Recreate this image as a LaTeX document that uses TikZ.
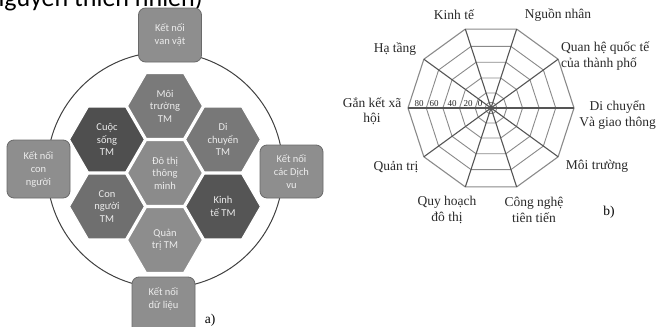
\documentclass[tikz,border=0pt]{standalone}
\usepackage{fontspec}
\setmainfont{Liberation Serif}
\newfontfamily\hexfont{Carlito}
\usetikzlibrary{shapes.geometric}
\definecolor{boxfill}{HTML}{8E8E8E}
\definecolor{boxedge}{HTML}{6A6A6A}
\definecolor{lighttext}{HTML}{ECECEC}
\definecolor{hexcen}{HTML}{8B8B8B}
\definecolor{hexmoi}{HTML}{7A7A7A}
\definecolor{hexcuoc}{HTML}{4F4F4F}
\definecolor{hexdi}{HTML}{787878}
\definecolor{hexkinh}{HTML}{555555}
\definecolor{hexcon}{HTML}{6F6F6F}
\definecolor{hexquan}{HTML}{8D8D8D}
\definecolor{ringcol}{HTML}{8A8A8A}
\definecolor{spokecol}{HTML}{555555}
\definecolor{labcol}{HTML}{2A2A2A}
\begin{document}
\begin{tikzpicture}[x=1pt,y=-1pt,
  hexbox/.style={regular polygon, regular polygon sides=6, minimum size=75pt,
    inner sep=0pt, draw=white, line width=1.2pt, text=lighttext,
    font=\hexfont\fontsize{10.5}{12.5}\selectfont, align=center},
  conbox/.style={rectangle, rounded corners=7pt, fill=boxfill, draw=boxedge,
    line width=0.8pt, minimum width=63pt, inner sep=0pt, text=lighttext,
    font=\hexfont\fontsize{10.5}{13}\selectfont, align=center},
  lbl/.style={font=\fontsize{13.5}{15.5}\selectfont, text=labcol, align=center, inner sep=0pt},
  scalelbl/.style={font=\fontsize{9}{10}\selectfont, text=labcol, inner sep=0pt},
  ring/.style={draw=ringcol, line width=0.9pt},
  spoke/.style={draw=spokecol, line width=1.1pt}]
\useasboundingbox (0,0) rectangle (657,327);
\clip (0,0) rectangle (657,327);
\fill[white] (0,0) rectangle (657,327);

% cut-off text at top (as in the reference)
\node[anchor=base east, font=\hexfont\fontsize{26}{28}\selectfont, inner sep=0pt] (toptext) at (203,6) {nguyên thiên nhiên)};

% ===== part a =====
\node[circle, draw=black!75, line width=1pt, minimum size=236pt, inner sep=0pt] (ring) at (165,170) {};

\node[hexbox, fill=hexcen]  (hcen)  at (165,173)   {Đô thị\\thông\\minh};
\node[hexbox, fill=hexmoi]  (hmoi)  at (165,106)   {Môi\\trường\\TM};
\node[hexbox, fill=hexquan] (hquan) at (165,240)   {Quản\\trị TM};
\node[hexbox, fill=hexcuoc] (hcuoc) at (107,139.5) {Cuộc\\sống\\TM};
\node[hexbox, fill=hexdi]   (hdi)   at (223,139.5) {Di\\chuyển\\TM};
\node[hexbox, fill=hexcon]  (hcon)  at (107,206.5) {Con\\người\\TM};
\node[hexbox, fill=hexkinh] (hkinh) at (223,206.5) {Kinh\\tế TM};

\node[conbox, minimum height=54pt] (btop)   at (170,35)    {Kết nối\\van vật};
\node[conbox, minimum height=58pt] (bleft)  at (38.5,169)  {Kết nối\\con\\người};
\node[conbox, minimum height=53pt] (bright) at (291.5,171.5) {Kết nối\\các Dịch\\vu};
\node[conbox, minimum height=60pt] (bbot)   at (163.5,307) {};
\node[font=\hexfont\fontsize{10.5}{13}\selectfont, text=lighttext, align=center, inner sep=0pt] (bbottext) at (163.5,298.5) {Kết nối\\dữ liệu};

\node[font=\fontsize{13.5}{15}\selectfont, inner sep=0pt] (labela) at (210,320) {a)};

% ===== part b: radar chart =====
\coordinate (cc) at (491,108);
\foreach \i in {0,...,9}
  \coordinate (v\i) at ({491+83*cos(36*\i)},{108-83*sin(36*\i)});
\foreach \f in {0.78,0.58,0.38,0.19,0.07}
  \draw[ring] ({491+83*\f},108) \foreach \i in {1,...,9}{ -- ({491+83*\f*cos(36*\i)},{108-83*\f*sin(36*\i)}) } -- cycle;
\draw[ring, line width=1.1pt] (v0) -- (v1) -- (v2) -- (v3) -- (v4) -- (v5) -- (v6) -- (v7) -- (v8) -- (v9) -- cycle;
\draw[spoke] (v0) -- (v5);
\draw[spoke] (v1) -- (v6);
\draw[spoke] (v2) -- (v7);
\draw[spoke] (v3) -- (v8);
\draw[spoke] (v4) -- (v9);
\fill[spokecol] (cc) circle[radius=2pt];

\node[scalelbl, anchor=base] (s80) at (419,106.5) {80};
\node[scalelbl, anchor=base] (s60) at (434,106.5) {60};
\node[scalelbl, anchor=base] (s40) at (452,106.5) {40};
\node[scalelbl, anchor=base] (s20) at (468,106.5) {20};
\node[scalelbl, anchor=base] (s0)  at (480,106.5) {0};

\node[lbl] (lkinh)  at (454,15)   {Kinh tế};
\node[lbl] (lnguon) at (558,15)   {Nguồn nhân};
\node[lbl, align=left, anchor=west] (lquan) at (561,56) {Quan hệ quốc tế\\của thành phố};
\node[lbl, align=center, anchor=east] (ldi) at (656,115) {Di chuyển\\Và giao thông};
\node[lbl] (lmoi)   at (597,166)  {Môi trường};
\node[lbl] (lcong)  at (534,210)  {Công nghệ\\tiên tiến};
\node[lbl] (lquy)   at (447,210)  {Quy hoạch\\đô thị};
\node[lbl] (lqtri)  at (396,167)  {Quản trị};
\node[lbl] (lgan)   at (372,111)  {Gắn kết xã\\hội};
\node[lbl] (lha)    at (395,49)   {Hạ tầng};
\node[font=\fontsize{13.5}{15}\selectfont, inner sep=0pt] (labelb) at (609,212) {b)};
\end{tikzpicture}
\end{document}
